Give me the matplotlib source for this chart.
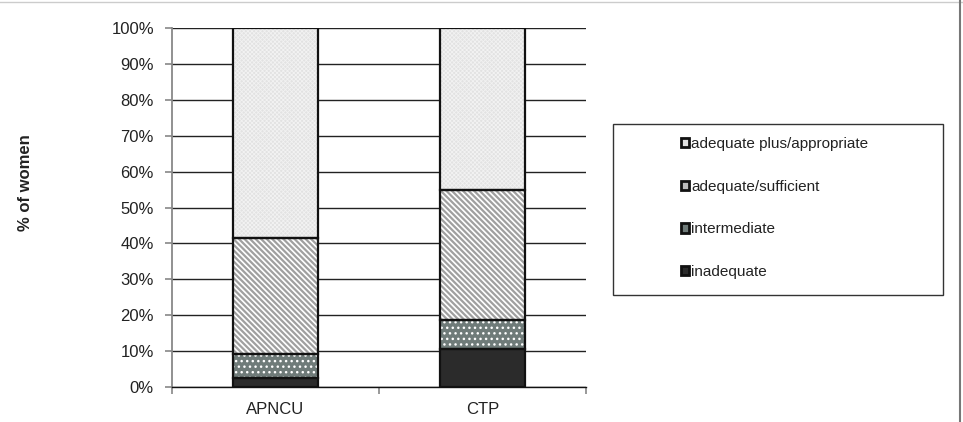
import matplotlib
matplotlib.use("Agg")
import matplotlib.pyplot as plt
from matplotlib.patches import Rectangle
from matplotlib.lines import Line2D
import numpy as np

plt.rcParams['font.family'] = ['Liberation Sans', 'DejaVu Sans']

categories = ["APNCU", "CTP"]
series_names = ["inadequate", "intermediate", "adequate/sufficient", "adequate plus/appropriate"]
inadequate = [2.4, 10.5]
intermediate = [6.8, 8.2]
adequate_sufficient = [32.3, 36.1]
adequate_plus = [58.5, 45.2]
y_ticks = [0, 10, 20, 30, 40, 50, 60, 70, 80, 90, 100]
y_tick_labels = ["0%", "10%", "20%", "30%", "40%", "50%", "60%", "70%", "80%", "90%", "100%"]

series_values = [inadequate, intermediate, adequate_sufficient, adequate_plus]
styles = [
    dict(face="#2b2b2b", hatch=None, hcolor="#2b2b2b", hlw=1.0, lface="#2b2b2b"),
    dict(face="#6f7b79", hatch="...", hcolor="#ffffff", hlw=1.0, lface="#6f7b79"),
    dict(face="#ffffff", hatch="\\\\\\\\\\\\", hcolor="#a0a0a0", hlw=1.6, lface="#bbbbbb"),
    dict(face="#e2e2e2", hatch="xxxxxxxx", hcolor="#f2f2f2", hlw=0.6, lface="#e2e2e2"),
]

fig = plt.figure(figsize=(9.63, 4.22), dpi=100)
ax = fig.add_axes([172/963, 1-387/422, 414/963, 359/422])

x = np.arange(len(categories))
width = 0.41
bottom = np.zeros(len(categories))
handles = []
for vals, st, name in zip(series_values, styles, series_names):
    vals = np.array(vals)
    with plt.rc_context({'hatch.linewidth': st['hlw'], 'hatch.color': st['hcolor']}):
        ax.bar(x, vals, width, bottom=bottom, color=st['face'],
               edgecolor=st['hcolor'], hatch=st['hatch'], linewidth=0, zorder=3)
    ax.bar(x, vals, width, bottom=bottom, fill=False, edgecolor="#111111",
           linewidth=1.6, zorder=4)
    handles.append(Rectangle((0, 0), 1, 1, facecolor=st['lface'], edgecolor="#111111",
                             linewidth=2.0))
    bottom += vals

ax.set_xlim(-0.5, 1.5)
ax.set_ylim(0, 100)
ax.set_yticks(y_ticks)
ax.set_yticklabels(y_tick_labels, fontsize=12, color="#222222")
ax.set_xticks(x)
ax.set_xticklabels(categories, fontsize=12, color="#222222")
ax.set_xticks([-0.5, 0.5, 1.5], minor=True)
ax.tick_params(axis='x', which='major', length=0, pad=11)
ax.tick_params(axis='x', which='minor', length=5, color="#888888", width=1.2)
ax.tick_params(axis='y', which='major', length=5, color="#888888", width=1.2, pad=8)
ax.grid(axis='y', color="#222222", linewidth=1.0, zorder=0)
ax.set_axisbelow(True)
for s in ['top', 'right']:
    ax.spines[s].set_visible(False)
ax.spines['left'].set_color("#888888")
ax.spines['left'].set_linewidth(1.3)
ax.spines['bottom'].set_color("#111111")
ax.spines['bottom'].set_linewidth(1.0)

fig.text(25/963, 1-183/422, "% of women", rotation=90, ha='center', va='center',
         fontsize=12, fontweight='bold', color="#222222")

# legend frame
fig.patches.append(Rectangle((613/963, 1-295/422), 330/963, 171/422,
                             transform=fig.transFigure, fill=False,
                             edgecolor="#333333", linewidth=1.0))
leg = fig.legend(handles[::-1], series_names[::-1], loc='upper left',
                 bbox_to_anchor=(681/963, 1-137/422), frameon=False,
                 fontsize=11, handlelength=0.55, handleheight=0.55,
                 handletextpad=0.1, labelspacing=1.88, borderpad=0,
                 borderaxespad=0)
for t in leg.get_texts():
    t.set_color("#222222")

# figure border lines
fig.add_artist(Line2D([0, 1], [1-1.5/422, 1-1.5/422], transform=fig.transFigure,
                      color="#cccccc", linewidth=1.0))
fig.add_artist(Line2D([960/963, 960/963], [0, 1], transform=fig.transFigure,
                      color="#777777", linewidth=1.5))

fig.savefig("out.png", dpi=100)
